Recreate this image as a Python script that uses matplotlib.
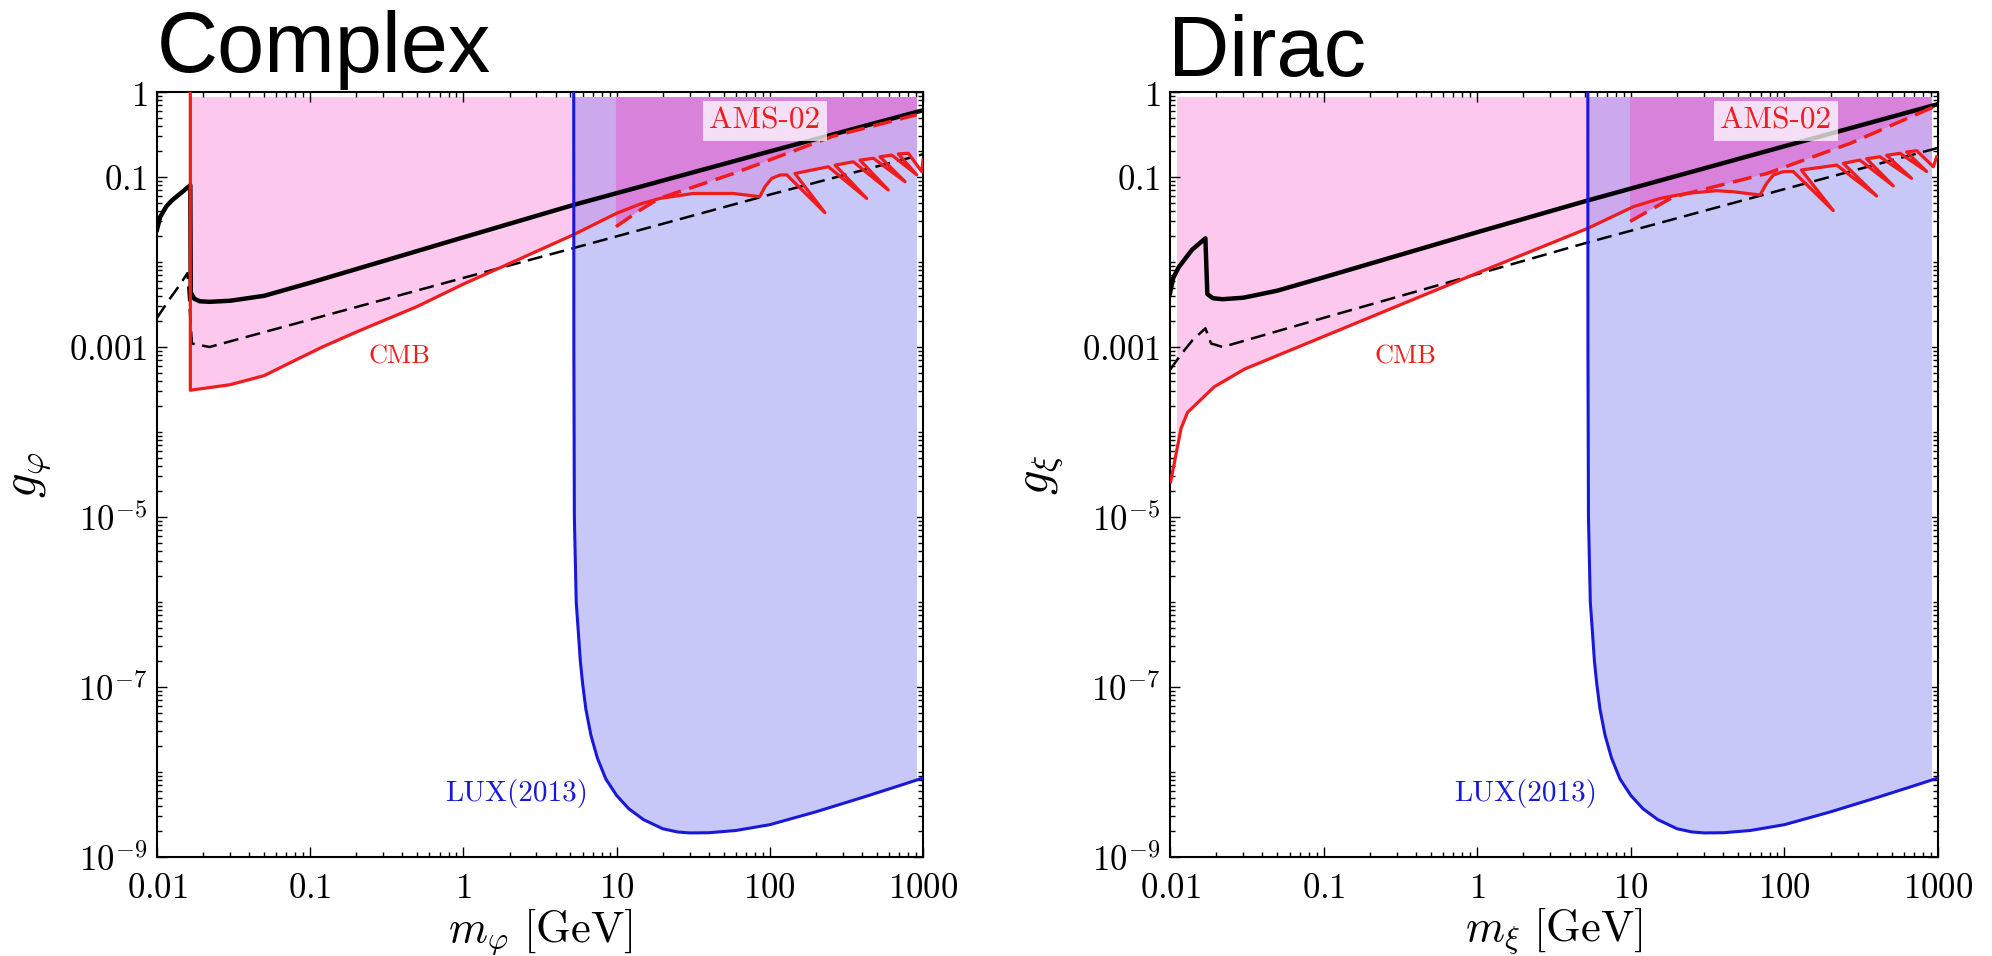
import matplotlib
matplotlib.use("Agg")
import matplotlib.pyplot as plt
import numpy as np
from matplotlib.patches import Polygon, Rectangle
from matplotlib.ticker import FixedLocator, LogLocator, NullFormatter

plt.rcParams["mathtext.fontset"] = "cm"

# ---------------- data ----------------
x_ticks = [0.01, 0.1, 1, 10, 100, 1000]
x_labels = ["$0.01$", "$0.1$", "$1$", "$10$", "$100$", "$1000$"]
y_ticks = [1e-9, 1e-7, 1e-5, 1e-3, 0.1, 1]
y_labels = ["$10^{-9}$", "$10^{-7}$", "$10^{-5}$", "$0.001$", "$0.1$", "$1$"]

# LUX(2013) limit, same in both panels
lux_m = [5.25, 5.26, 5.3, 5.45, 5.6, 5.8, 6.0, 6.3, 6.8, 7.5, 8.5, 10, 12, 15, 20,
         25, 30, 40, 60, 100, 200, 400, 700, 1000]
lux_g = [1.0, 1e-3, 1e-5, 1e-6, 5e-7, 2e-7, 1.1e-7, 5.5e-8, 2.7e-8, 1.45e-8, 8.3e-9,
         5.3e-9, 3.7e-9, 2.75e-9, 2.15e-9, 1.97e-9, 1.92e-9, 1.93e-9, 2.05e-9,
         2.4e-9, 3.4e-9, 5.0e-9, 6.9e-9, 8.5e-9]

# Complex scalar: CMB (solid red, incl. resonance wiggles)
cplx_cmb_m = [0.0165, 0.0165, 0.03, 0.05, 0.08, 0.12, 0.2, 0.5, 1.0, 2.0, 5.25, 10.0,
              14.2, 19.2, 31.7, 57.8, 86, 93, 103, 117, 129, 229, 146, 241, 429, 267,
              351, 594, 388, 474, 764, 524, 625, 910, 690, 802, 980, 1000]
cplx_cmb_g = [1.0, 3.1e-4, 3.6e-4, 4.6e-4, 7.0e-4, 1.0e-3, 1.5e-3, 3.0e-3, 5.5e-3,
              9.6e-3, 0.021, 0.0374, 0.048, 0.056, 0.064, 0.064, 0.0587, 0.0769,
              0.0964, 0.1057, 0.106, 0.038, 0.110, 0.132, 0.056, 0.138, 0.151, 0.0703,
              0.158, 0.166, 0.088, 0.173, 0.181, 0.106, 0.187, 0.190, 0.116, 0.158]
# AMS-02 (dashed red)
cplx_ams_m = [9.9, 14, 19, 58, 256, 910]
cplx_ams_g = [0.026, 0.04, 0.056, 0.11, 0.30, 0.54]
# relic abundance (solid black) and dashed black
cplx_relic_m = [0.01, 0.0105, 0.0115, 0.0125, 0.0148, 0.0165, 0.0166, 0.0175, 0.019,
                0.022, 0.03, 0.05, 0.1, 1, 5.25, 100, 1000]
cplx_relic_g = [0.024, 0.034, 0.045, 0.053, 0.068, 0.08, 4.4e-3, 3.7e-3, 3.45e-3,
                3.4e-3, 3.5e-3, 4.0e-3, 5.7e-3, 0.0195, 0.047, 0.2, 0.61]
cplx_dash_m = [0.01, 0.012, 0.014, 0.0158, 0.0169, 0.022, 0.1, 1, 5.25, 100, 1000]
cplx_dash_g = [2.2e-3, 3.6e-3, 5.3e-3, 7.4e-3, 1.1e-3, 1.0e-3, 2.1e-3, 6.5e-3,
               0.0146, 0.062, 0.185]

# Dirac fermion
dirac_cmb_m = [0.0101, 0.0118, 0.013, 0.0194, 0.0306, 1.0, 5.25, 10.4, 15.5, 23, 36,
               46.5, 69.4, 76.7, 84.8, 98.4, 114, 208, 129, 219, 399, 242, 310, 512,
               343, 419, 673, 463, 566, 844, 625, 726, 933, 980]
dirac_cmb_g = [2.6e-5, 1.1e-4, 1.7e-4, 3.4e-4, 5.5e-4, 7.4e-3, 0.0249, 0.0448, 0.056,
               0.064, 0.069, 0.067, 0.0614, 0.0843, 0.1057, 0.1156, 0.116, 0.0402,
               0.121, 0.138, 0.0598, 0.145, 0.158, 0.0784, 0.164, 0.173, 0.0964,
               0.180, 0.190, 0.116, 0.197, 0.204, 0.132, 0.173]
dirac_ams_m = [9.9, 18.8, 77, 270, 940]
dirac_ams_g = [0.03, 0.058, 0.11, 0.25, 0.67]
dirac_relic_m = [0.01, 0.0105, 0.0114, 0.0139, 0.017, 0.0175, 0.019, 0.022, 0.03,
                 0.05, 0.1, 1, 5.25, 100, 1000]
dirac_relic_g = [4.3e-3, 6.5e-3, 8.7e-3, 0.0139, 0.019, 4.2e-3, 3.75e-3, 3.65e-3,
                 3.8e-3, 4.6e-3, 6.6e-3, 0.0224, 0.053, 0.23, 0.72]
dirac_dash_m = [0.01, 0.012, 0.014, 0.017, 0.0185, 0.022, 0.1, 1, 5.25, 100, 1000]
dirac_dash_g = [5.4e-4, 8.5e-4, 1.2e-3, 1.66e-3, 1.1e-3, 1.0e-3, 2.2e-3, 7.2e-3,
                0.017, 0.072, 0.22]

PINK = "#fcc8ee"
BLUE = "#c8c8f8"
LAVENDER = "#cca8ec"
MAGENTA = "#d982dc"
RED = "#ee1c1c"
LUXBLUE = "#1818d8"
FILL_TOP, FILL_RIGHT = 0.87, 915


def panel(ax, cmb_m, cmb_g, ams_m, ams_g, relic_m, relic_g, dash_m, dash_g,
          cmb_xy, ams_xy, lux_xy, ylab, xlab, fill_left):
    ax.set_xscale("log")
    ax.set_yscale("log")
    ax.set_xlim(0.01, 1000)
    ax.set_ylim(1e-9, 1)

    clip = Rectangle((fill_left, 1e-9), FILL_RIGHT - fill_left, FILL_TOP - 1e-9,
                     transform=ax.transData)

    # CMB excluded region
    pts = np.column_stack([cmb_m + [1000, cmb_m[0]], cmb_g + [1, 1]])
    p = Polygon(pts, closed=True, facecolor=PINK, edgecolor="none", zorder=1)
    ax.add_patch(p)
    p.set_clip_path(clip)

    # LUX excluded region
    pts = np.column_stack([lux_m + [1000], lux_g + [1]])
    p = Polygon(pts, closed=True, facecolor=BLUE, edgecolor="none", zorder=2)
    ax.add_patch(p)
    p.set_clip_path(clip)

    # overlap of CMB and LUX
    i0 = cmb_m.index(lux_m[0])
    pts = np.column_stack([cmb_m[i0:] + [1000, lux_m[0]], cmb_g[i0:] + [1, 1]])
    p = Polygon(pts, closed=True, facecolor=LAVENDER, edgecolor="none", zorder=3)
    ax.add_patch(p)
    p.set_clip_path(clip)

    # AMS-02 region
    pts = np.column_stack([ams_m + [1000, 1000, ams_m[0]],
                           ams_g + [ams_g[-1], 1, 1]])
    p = Polygon(pts, closed=True, facecolor=MAGENTA, edgecolor="none", zorder=4)
    ax.add_patch(p)
    p.set_clip_path(clip)

    ax.plot(dash_m, dash_g, color="black", lw=1.8, dashes=(6, 3), zorder=6)
    ax.plot(relic_m, relic_g, color="black", lw=3.2, zorder=6)
    ax.plot(cmb_m, cmb_g, color=RED, lw=2.3, zorder=7)
    ax.plot(ams_m, ams_g, color=RED, lw=2.5, dashes=(5.5, 2.5), zorder=7)
    ax.plot(lux_m, lux_g, color=LUXBLUE, lw=2.2, zorder=7)

    ax.text(*cmb_xy, "CMB", color=RED, family="cmr10", fontsize=19,
            ha="center", va="center", zorder=10)
    ax.text(*ams_xy, "AMS-02", color=RED, family="cmr10", fontsize=22.5,
            ha="center", va="center", zorder=10,
            bbox=dict(boxstyle="square,pad=0.2", facecolor="white",
                      edgecolor="none", alpha=0.75))
    ax.text(*lux_xy, "LUX(2013)", color=LUXBLUE, family="cmr10", fontsize=21,
            ha="center", va="center", zorder=10)

    ax.xaxis.set_major_locator(FixedLocator(x_ticks))
    ax.set_xticklabels(x_labels)
    ax.xaxis.set_minor_locator(LogLocator(base=10, subs=np.arange(2, 10), numticks=50))
    ax.xaxis.set_minor_formatter(NullFormatter())
    ax.yaxis.set_major_locator(FixedLocator(y_ticks))
    ax.set_yticklabels(y_labels)
    ax.yaxis.set_minor_locator(LogLocator(base=10, subs=np.arange(1, 10), numticks=50))
    ax.yaxis.set_minor_formatter(NullFormatter())
    ax.tick_params(which="both", direction="in", top=True, right=True, width=1.0)
    ax.tick_params(which="major", length=7, labelsize=25)
    ax.tick_params(axis="x", which="major", pad=10)
    ax.tick_params(axis="y", which="major", pad=7)
    ax.tick_params(which="minor", length=3.6)
    for s in ax.spines.values():
        s.set_linewidth(1.5)

    ax.set_ylabel(ylab, fontsize=35, va="center")
    ax.yaxis.set_label_coords(-0.168, 0.5)
    ax.set_xlabel(xlab, fontsize=32, va="center")
    ax.xaxis.set_label_coords(0.5, -0.097)


fig = plt.figure(figsize=(19.92, 9.56), dpi=100)
ax1 = fig.add_axes([157 / 1992, 99 / 956, 766 / 1992, 765 / 956])
ax2 = fig.add_axes([1170 / 1992, 99 / 956, 768 / 1992, 765 / 956])

panel(ax1, cplx_cmb_m, cplx_cmb_g, cplx_ams_m, cplx_ams_g, cplx_relic_m, cplx_relic_g,
      cplx_dash_m, cplx_dash_g, (0.385, 7.6e-4), (93, 0.456), (2.24, 5.6e-9),
      r"$g_\varphi$", r"$m_\varphi\ [\mathrm{GeV}]$", 0.0111)
panel(ax2, dirac_cmb_m, dirac_cmb_g, dirac_ams_m, dirac_ams_g, dirac_relic_m,
      dirac_relic_g, dirac_dash_m, dirac_dash_g, (0.34, 7.6e-4), (88, 0.456),
      (2.08, 5.6e-9), r"$g_\xi$", r"$m_\xi\ [\mathrm{GeV}]$", 0.0111)

fig.text(157 / 1992, 1 - 72 / 956, "Complex", family="Liberation Sans", fontsize=61,
         va="baseline", ha="left")
fig.text(1168 / 1992, 1 - 76 / 956, "Dirac", family="Liberation Sans", fontsize=61,
         va="baseline", ha="left")

fig.savefig("out.png", dpi=100)
